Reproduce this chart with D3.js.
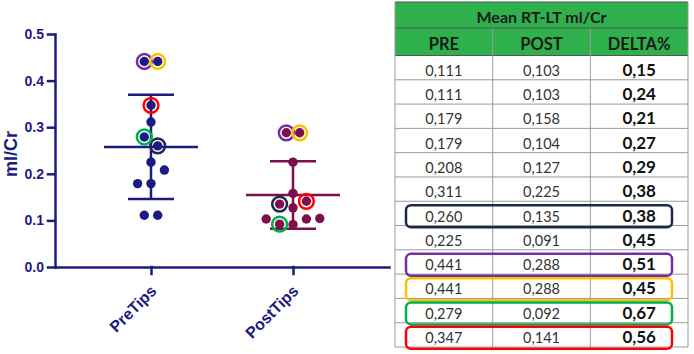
<!DOCTYPE html>
<html>
<head>
<meta charset="UTF-8">
<script src="https://d3js.org/d3.v7.min.js"></script>
<style>
    body { margin: 0; background: #fff; }
    svg { display: block; }
    .axis text { font-family: "Liberation Sans", Arial, sans-serif; font-weight: bold; fill: #1c1c80; }
    .axis path, .axis line { stroke: #1c1c80; stroke-width: 2.5; stroke-linecap: square; }
    .tbl text { font-family: Lato, "Open Sans", sans-serif; }
</style>
</head>
<body>
<div id="chart"></div>
<script>
const groups = ["PreTips", "PostTips"];
const preValues = [0.111, 0.111, 0.179, 0.179, 0.208, 0.311, 0.260, 0.225, 0.441, 0.441, 0.279, 0.347];
const postValues = [0.103, 0.103, 0.158, 0.104, 0.127, 0.225, 0.135, 0.091, 0.288, 0.288, 0.092, 0.141];
const deltaValues = [0.15, 0.24, 0.21, 0.27, 0.29, 0.38, 0.38, 0.45, 0.51, 0.45, 0.67, 0.56];
const yTicks = [0, 0.1, 0.2, 0.3, 0.4, 0.5];
const tableTitle = "Mean RT-LT ml/Cr";
const tableHeaders = ["PRE", "POST", "DELTA%"];
// table rows that are boxed, and circled in the chart
const highlightRows = [6, 8, 9, 10, 11];
const highlightColors = ["#1e2a4a", "#7030a0", "#ffc000", "#00b050", "#ff0000"];
const groupColors = ["#1c1c80", "#7d0f4b"];

const width = 694, height = 354;
const svg = d3.select("#chart").append("svg")
    .attr("width", width)
    .attr("height", height);

// ---- scatter chart ----
const x = d3.scalePoint().domain(groups).range([55, 389]).padding(0.676);
const y = d3.scaleLinear().domain([0, 0.5]).range([267, 34]);

svg.append("g")
    .attr("class", "axis")
    .attr("transform", "translate(55,0)")
    .call(d3.axisLeft(y).tickValues(yTicks).tickFormat(d3.format(".1f"))
        .tickSize(7).tickSizeOuter(0).tickPadding(4))
    .selectAll("text").style("font-size", "14px");

const xAxis = svg.append("g")
    .attr("class", "axis")
    .attr("transform", "translate(0,267)")
    .call(d3.axisBottom(x).tickSize(7).tickSizeOuter(0));
xAxis.selectAll("text")
    .attr("x", 0).attr("y", 0).attr("dy", 0)
    .attr("text-anchor", "end")
    .attr("transform", "translate(6,25) rotate(-45)")
    .style("font-size", "16px");

svg.append("text")
    .attr("transform", "translate(17,154) rotate(-90)")
    .attr("text-anchor", "middle")
    .style("font-family", "'Liberation Sans', Arial, sans-serif")
    .style("font-weight", "bold")
    .style("font-size", "18px")
    .style("fill", "#1c1c80")
    .text("ml/Cr");

// GraphPad-like column scatter: close values share a row and spread sideways
const spacing = 13.4;
function swarm(values) {
    const items = values.map((v, i) => ({ v, i }))
        .sort((a, b) => a.v - b.v || b.i - a.i);
    const rows = [];
    items.forEach(d => {
        const row = rows[rows.length - 1];
        if (row && y(row[0].v) - y(d.v) < 14) row.push(d);
        else rows.push([d]);
    });
    const offs = [];
    rows.forEach(row => {
        const n = row.length;
        row.forEach((d, k) => {
            let slot;
            if (n % 2) slot = k === 0 ? 0 : (k % 2 ? -1 : 1) * Math.ceil(k / 2);
            else slot = (k % 2 ? -1 : 1) * (Math.floor(k / 2) + 0.5);
            offs[d.i] = slot * spacing;
        });
    });
    return offs;
}

[preValues, postValues].forEach((values, gi) => {
    const cx = x(groups[gi]);
    const color = groupColors[gi];
    const mean = d3.mean(values);
    const sd = d3.deviation(values);
    const offs = swarm(values);

    const g = svg.append("g").attr("stroke", color).attr("stroke-width", 2.5);
    g.append("line")
        .attr("x1", cx).attr("x2", cx)
        .attr("y1", y(mean + sd)).attr("y2", y(mean - sd));
    [mean + sd, mean - sd].forEach(v => {
        g.append("line")
            .attr("x1", cx - 23).attr("x2", cx + 23)
            .attr("y1", y(v)).attr("y2", y(v));
    });
    g.append("line")
        .attr("x1", cx - 47).attr("x2", cx + 47)
        .attr("y1", y(mean)).attr("y2", y(mean));

    svg.append("g").selectAll("circle")
        .data(values)
        .enter()
        .append("circle")
        .attr("cx", (d, i) => cx + offs[i])
        .attr("cy", d => y(d))
        .attr("r", 4.7)
        .attr("fill", color);

    highlightRows.forEach((r, k) => {
        svg.append("circle")
            .attr("cx", cx + offs[r])
            .attr("cy", y(values[r]))
            .attr("r", 7.4)
            .attr("fill", "none")
            .attr("stroke", highlightColors[k])
            .attr("stroke-width", 2.5);
    });
});

// ---- table ----
const loc = d3.formatLocale({ decimal: ",", thousands: ".", grouping: [3], currency: ["", ""] });
const f3 = loc.format(".3f");
const f2 = loc.format(".2f");

const tx = d3.scaleBand().domain(tableHeaders).range([395, 688]);
const ty = d3.scaleBand().domain(d3.range(preValues.length)).range([55.5, 347]);
const tLeft = 395, tRight = 688, titleTop = 2, headTop = 28, headBottom = 55.5;

const tbl = svg.append("g").attr("class", "tbl");
tbl.append("rect")
    .attr("x", tLeft).attr("y", titleTop)
    .attr("width", tRight - tLeft).attr("height", headBottom - titleTop)
    .attr("fill", "#2eb04c");

tbl.append("text")
    .attr("x", (tLeft + tRight) / 2).attr("y", 23)
    .attr("text-anchor", "middle")
    .style("font-size", "16px").style("font-weight", "bold").style("fill", "#1a1a1a")
    .text(tableTitle);

tbl.selectAll(".hd")
    .data(tableHeaders)
    .enter()
    .append("text")
    .attr("x", d => tx(d) + tx.bandwidth() / 2)
    .attr("y", 50)
    .attr("text-anchor", "middle")
    .style("font-size", "16.5px").style("font-weight", "bold").style("fill", "#1a1a1a")
    .text(d => d);

// grid lines
const lineColor = "#9a9a9a";
ty.domain().forEach(i => {
    tbl.append("line")
        .attr("x1", tLeft).attr("x2", tRight)
        .attr("y1", ty(i) + ty.bandwidth()).attr("y2", ty(i) + ty.bandwidth())
        .attr("stroke", lineColor);
});
[titleTop, headTop, headBottom].forEach(yy => {
    tbl.append("line")
        .attr("x1", tLeft).attr("x2", tRight)
        .attr("y1", yy).attr("y2", yy)
        .attr("stroke", "#555");
});
tableHeaders.slice(1).forEach(h => {
    tbl.append("line")
        .attr("x1", tx(h)).attr("x2", tx(h))
        .attr("y1", headTop).attr("y2", 347)
        .attr("stroke", lineColor);
});
[tLeft, tRight].forEach(xx => {
    tbl.append("line")
        .attr("x1", xx).attr("x2", xx)
        .attr("y1", titleTop).attr("y2", 347)
        .attr("stroke", lineColor);
});

const rows = tbl.selectAll(".row")
    .data(preValues.map((p, i) => ({ i, cells: [f3(p), f3(postValues[i]), f2(deltaValues[i])] })))
    .enter()
    .append("g");

rows.selectAll("text")
    .data(d => d.cells.map((c, j) => ({ c, j, i: d.i })))
    .enter()
    .append("text")
    .attr("x", d => tx(tableHeaders[d.j]) + tx.bandwidth() / 2)
    .attr("y", d => ty(d.i) + ty.bandwidth() - 4)
    .attr("text-anchor", "middle")
    .style("font-size", d => d.j === 2 ? "17px" : "14.5px")
    .style("font-weight", d => d.j === 2 ? "bold" : "normal")
    .style("fill", d => d.j === 2 ? "#111" : "#333")
    .text(d => d.c);

highlightRows.forEach((r, k) => {
    tbl.append("rect")
        .attr("x", 406).attr("width", 266)
        .attr("y", ty(r) + 4).attr("height", 22)
        .attr("rx", 5)
        .attr("fill", "none")
        .attr("stroke", highlightColors[k])
        .attr("stroke-width", 2.5);
});
</script>
</body>
</html>
